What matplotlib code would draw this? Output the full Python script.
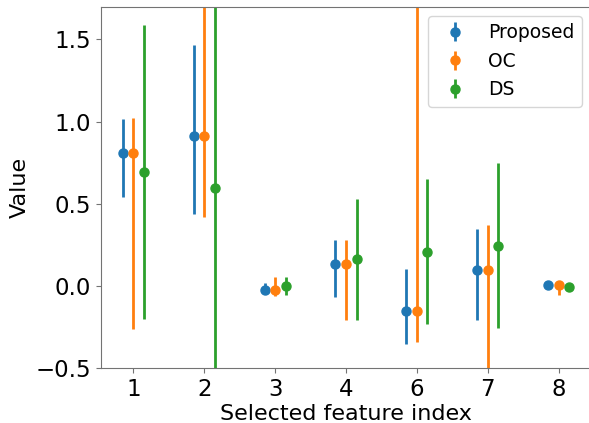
import numpy as np
import matplotlib
matplotlib.use('Agg')
import matplotlib.pyplot as plt

features = ['1', '2', '3', '4', '6', '7', '8']

# mean values
prop_mean = [0.806, 0.913, -0.028, 0.135, -0.152, 0.095, 0.006]
oc_mean = [0.806, 0.913, -0.028, 0.135, -0.152, 0.095, 0.006]
ds_mean = [0.694, 0.593, 0.002, 0.164, 0.208, 0.243, -0.008]

# interval bounds (low, high)
prop_low = [0.539, 0.435, -0.045, -0.07, -0.356, -0.208, 0.0]
prop_high = [1.018, 1.465, 0.02, 0.28, 0.105, 0.344, 0.012]
oc_low = [-0.26, 0.417, -0.06, -0.21, -0.342, -0.75, -0.055]
oc_high = [1.02, 2.1, 0.055, 0.28, 2.4, 0.37, 0.02]
ds_low = [-0.20, -0.9, -0.055, -0.206, -0.235, -0.255, -0.015]
ds_high = [1.585, 2.2, 0.055, 0.528, 0.65, 0.747, 0.0]

fig = plt.figure(figsize=(5.89, 4.23), dpi=100)
ax = fig.add_axes([100.5 / 589, 55 / 423, 491 / 589, 361.5 / 423])

x = np.arange(len(features))
series = [
    ('Proposed', prop_mean, prop_low, prop_high, -0.15),
    ('OC', oc_mean, oc_low, oc_high, 0.0),
    ('DS', ds_mean, ds_low, ds_high, 0.15),
]
for name, m, lo, hi, off in series:
    m = np.array(m)
    yerr = [m - np.array(lo), np.array(hi) - m]
    ax.errorbar(x + off, m, yerr=yerr, fmt='o', markersize=6.5,
                elinewidth=2, label=name)

ax.set_ylim(-0.5, 1.7)
ax.set_xticks(x)
ax.set_xticklabels(features)
ax.set_yticks([-0.5, 0.0, 0.5, 1.0, 1.5])
ax.tick_params(labelsize=16.5, color='0.45')
for s in ax.spines.values():
    s.set_color('0.45')
ax.set_xlabel('Selected feature index', fontsize=16, labelpad=2)
ax.set_ylabel('Value', fontsize=16)
ax.legend(fontsize=13.5, loc='upper right')

fig.savefig('out.png', dpi=100)
